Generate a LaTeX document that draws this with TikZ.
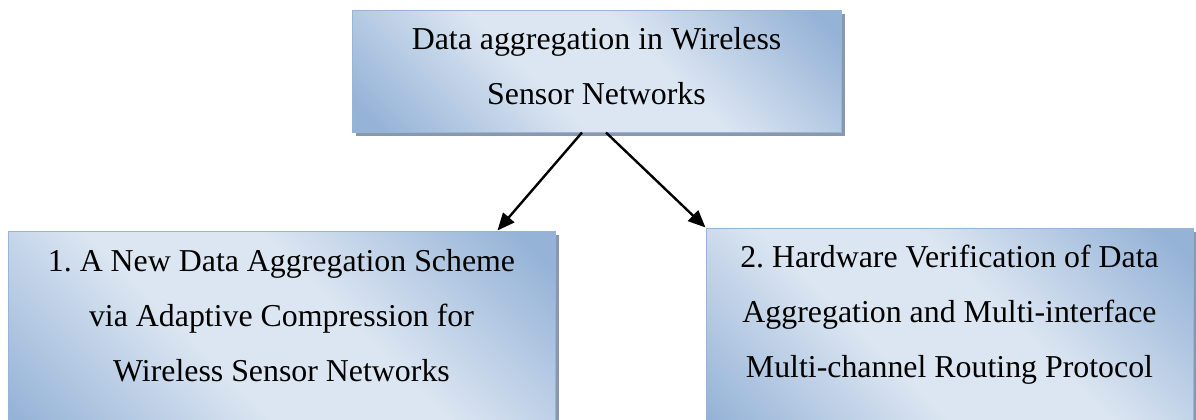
\documentclass[tikz,border=0pt]{standalone}
\usepackage{fontspec}
\setmainfont{Liberation Serif}
\usetikzlibrary{arrows.meta,shadows,fit,calc}
\frenchspacing

\definecolor{gradDark}{RGB}{149,179,215}
\definecolor{gradLight}{RGB}{220,230,242}
\definecolor{boxEdge}{RGB}{152,181,216}
\definecolor{shadowGrey}{RGB}{138,152,172}

% diagonal blue band fill: dark corners, light middle
\pgfdeclareverticalshading{boxgrad}{100bp}{%
  color(0bp)=(gradDark); color(18bp)=(gradDark);
  color(42bp)=(gradLight); color(58bp)=(gradLight);
  color(82bp)=(gradDark); color(100bp)=(gradDark)}

\tikzset{
  topicbox/.style={draw=boxEdge, line width=0.75pt, inner sep=0pt,
    shading=boxgrad, shading angle=-45,
    drop shadow={shadow xshift=3pt, shadow yshift=-3pt,
                 fill=shadowGrey, opacity=1}},
  boxtext/.style={inner sep=0pt, align=center, anchor=north,
    font=\fontsize{23.9pt}{41.25pt}\selectfont},
  link/.style={line width=1.8pt, -{Triangle[length=13pt,width=11pt]}},
}

\begin{document}
\begin{tikzpicture}[x=0.75pt,y=-0.75pt]
  \useasboundingbox (0,0) rectangle (1196,419);
  \clip (0,0) rectangle (1196,419);

  % boxes
  \node[topicbox, fit={(352,10) (841,132)}] (topBox) {};
  \node[topicbox, fit={(8,231) (555,450)}] (leftBox) {};
  \node[topicbox, fit={(706,228) (1193,450)}] (rightBox) {};

  % box texts
  \node[boxtext] (topText) at ($(topBox.north)+(0,18)$)
    {Data aggregation in Wireless\\Sensor Networks};
  \node[boxtext] (leftText) at ($(leftBox.north)+(0,19)$)
    {1. A New Data Aggregation Scheme\\via Adaptive Compression for\\Wireless Sensor Networks};
  \node[boxtext] (rightText) at ($(rightBox.north)+(0,17)$)
    {2. Hardware Verification of Data\\Aggregation and Multi-interface\\Multi-channel Routing Protocol};

  % connectors
  \draw[link] ($(topBox.south)+(-14.5,0)$) -- ($(leftBox.north east)+(-58,0)$);
  \draw[link] ($(topBox.south)+(9.5,0)$) -- (rightBox.north west);
\end{tikzpicture}
\end{document}
